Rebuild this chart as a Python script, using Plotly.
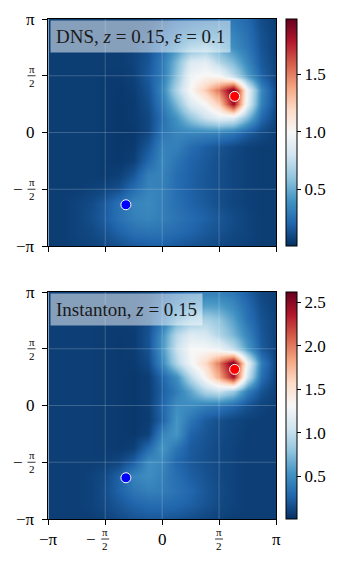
import numpy as np
import plotly.graph_objects as go

PI = np.pi

# grid nodes (17 x 17, spacing pi/8)
nodes = np.linspace(-PI, PI, 17)

# rows go from y = -pi (bottom) to y = pi (top)
dns_rows = [
    [0.06,0.06,0.07,0.08,0.10,0.13,0.16,0.18,0.18,0.16,0.14,0.12,0.10,0.08,0.07,0.06,0.06],
    [0.06,0.06,0.08,0.10,0.14,0.20,0.25,0.27,0.26,0.23,0.20,0.16,0.13,0.10,0.08,0.06,0.06],
    [0.06,0.06,0.08,0.12,0.18,0.26,0.32,0.34,0.31,0.27,0.23,0.19,0.15,0.11,0.08,0.06,0.06],
    [0.06,0.06,0.08,0.11,0.17,0.26,0.34,0.36,0.31,0.25,0.20,0.16,0.12,0.09,0.07,0.06,0.06],
    [0.06,0.06,0.06,0.07,0.09,0.13,0.24,0.34,0.32,0.24,0.19,0.15,0.12,0.09,0.07,0.06,0.06],
    [0.06,0.06,0.06,0.06,0.05,0.07,0.15,0.32,0.33,0.24,0.19,0.15,0.12,0.09,0.07,0.06,0.06],
    [0.06,0.06,0.06,0.06,0.05,0.04,0.07,0.22,0.35,0.27,0.20,0.16,0.12,0.09,0.07,0.06,0.06],
    [0.06,0.06,0.06,0.06,0.05,0.04,0.05,0.16,0.33,0.32,0.24,0.18,0.14,0.10,0.07,0.06,0.06],
    [0.06,0.06,0.06,0.06,0.05,0.04,0.04,0.10,0.28,0.34,0.34,0.33,0.32,0.27,0.17,0.10,0.06],
    [0.06,0.06,0.06,0.06,0.05,0.04,0.05,0.10,0.25,0.40,0.60,0.78,0.88,0.85,0.55,0.22,0.08],
    [0.06,0.06,0.06,0.06,0.05,0.04,0.05,0.12,0.30,0.55,0.85,1.00,1.25,1.85,0.90,0.32,0.10],
    [0.06,0.06,0.06,0.06,0.05,0.04,0.06,0.14,0.35,0.70,1.00,1.25,1.55,1.97,0.95,0.35,0.10],
    [0.06,0.06,0.06,0.06,0.05,0.05,0.07,0.17,0.30,0.60,0.95,1.02,1.00,0.75,0.45,0.20,0.08],
    [0.06,0.06,0.06,0.06,0.06,0.06,0.08,0.15,0.30,0.55,0.85,0.90,0.70,0.55,0.35,0.16,0.08],
    [0.06,0.06,0.06,0.06,0.06,0.06,0.08,0.14,0.25,0.40,0.55,0.60,0.50,0.38,0.28,0.14,0.07],
    [0.06,0.06,0.06,0.06,0.06,0.06,0.07,0.10,0.18,0.28,0.35,0.38,0.38,0.33,0.25,0.13,0.07],
    [0.06,0.06,0.06,0.06,0.06,0.06,0.06,0.08,0.12,0.18,0.22,0.25,0.28,0.28,0.22,0.11,0.06],
]

inst_rows = [
    [0.08,0.08,0.08,0.08,0.10,0.14,0.18,0.20,0.20,0.18,0.15,0.12,0.10,0.08,0.08,0.08,0.08],
    [0.08,0.08,0.08,0.10,0.14,0.20,0.26,0.30,0.30,0.28,0.24,0.18,0.13,0.10,0.08,0.08,0.08],
    [0.08,0.08,0.08,0.10,0.16,0.26,0.36,0.42,0.40,0.34,0.28,0.20,0.14,0.10,0.08,0.08,0.08],
    [0.08,0.08,0.08,0.10,0.14,0.26,0.44,0.50,0.42,0.32,0.24,0.18,0.13,0.10,0.08,0.08,0.08],
    [0.08,0.08,0.08,0.08,0.09,0.12,0.24,0.50,0.46,0.28,0.21,0.16,0.13,0.10,0.08,0.08,0.08],
    [0.08,0.08,0.08,0.08,0.07,0.06,0.09,0.30,0.55,0.36,0.22,0.17,0.13,0.10,0.08,0.08,0.08],
    [0.08,0.08,0.08,0.08,0.07,0.06,0.05,0.10,0.45,0.55,0.26,0.19,0.14,0.11,0.08,0.08,0.08],
    [0.08,0.08,0.08,0.08,0.07,0.06,0.05,0.07,0.26,0.55,0.36,0.22,0.16,0.12,0.09,0.08,0.08],
    [0.08,0.08,0.08,0.08,0.07,0.06,0.05,0.08,0.28,0.50,0.48,0.40,0.36,0.28,0.17,0.10,0.08],
    [0.08,0.08,0.08,0.08,0.07,0.06,0.05,0.08,0.24,0.40,0.62,0.92,1.02,0.85,0.42,0.18,0.09],
    [0.08,0.08,0.08,0.08,0.07,0.06,0.05,0.08,0.28,0.50,0.95,1.36,1.83,2.40,1.05,0.32,0.10],
    [0.08,0.08,0.08,0.08,0.07,0.06,0.06,0.14,0.48,0.92,1.28,1.57,2.04,2.60,1.25,0.40,0.10],
    [0.08,0.08,0.08,0.08,0.07,0.06,0.07,0.18,0.55,1.02,1.31,1.31,1.25,1.00,0.58,0.22,0.10],
    [0.08,0.08,0.08,0.08,0.07,0.06,0.07,0.18,0.52,0.95,1.15,1.10,0.92,0.72,0.45,0.20,0.10],
    [0.08,0.08,0.08,0.08,0.07,0.07,0.08,0.16,0.36,0.66,0.82,0.90,0.80,0.60,0.35,0.18,0.10],
    [0.08,0.08,0.08,0.08,0.08,0.08,0.10,0.15,0.28,0.45,0.55,0.60,0.58,0.48,0.30,0.15,0.09],
    [0.08,0.08,0.08,0.08,0.08,0.08,0.09,0.12,0.20,0.30,0.38,0.42,0.42,0.36,0.24,0.12,0.08],
]

dns_range = (0.01, 1.98)
inst_range = (0.01, 2.62)

# special points (red = maximum, blue = start)
red_x, red_y = [2.0], [1.0]
blue_x, blue_y = [-1.0], [-2.0]

tick_vals = [-PI, -PI / 2, 0, PI / 2, PI]

# matplotlib RdBu_r
RDBU_R = ["#053061", "#2166ac", "#4393c3", "#92c5de", "#d1e5f0", "#f7f7f7",
          "#fddbc7", "#f4a582", "#d6604d", "#b2182b", "#67001f"]
cscale = [[i / 10, c] for i, c in enumerate(RDBU_R)]

W, H = 344, 562
FONT = "Liberation Serif"
X_DOM = [48.3 / W, 276 / W]
Y_DOM_TOP = [1 - 246 / H, 1 - 19 / H]
Y_DOM_BOT = [1 - 519 / H, 1 - 292 / H]


def cbar(ydom):
    return dict(
        x=286 / W, xanchor="left", xpad=0, ypad=0,
        y=(ydom[0] + ydom[1]) / 2, yanchor="middle",
        len=ydom[1] - ydom[0], lenmode="fraction",
        thickness=11, thicknessmode="pixels",
        outlinecolor="black", outlinewidth=1,
        ticks="outside", ticklen=4, tickcolor="black",
        tickvals=[0.5, 1.0, 1.5, 2.0, 2.5], ticktext=["0.5", "1.0", "1.5", "2.0", "2.5"],
        tickfont=dict(family=FONT, size=17, color="black"),
    )


fig = go.Figure()
fig.add_trace(go.Heatmap(
    x=nodes, y=nodes, z=dns_rows, zsmooth="best", colorscale=cscale,
    zmin=dns_range[0], zmax=dns_range[1], colorbar=cbar(Y_DOM_TOP),
    xaxis="x", yaxis="y",
))
fig.add_trace(go.Heatmap(
    x=nodes, y=nodes, z=inst_rows, zsmooth="best", colorscale=cscale,
    zmin=inst_range[0], zmax=inst_range[1], colorbar=cbar(Y_DOM_BOT),
    xaxis="x2", yaxis="y2",
))

for xa, ya in [("x", "y"), ("x2", "y2")]:
    fig.add_trace(go.Scatter(x=red_x, y=red_y, mode="markers", xaxis=xa, yaxis=ya,
                             marker=dict(color="#ff0000", size=10, line=dict(color="white", width=1)),
                             showlegend=False))
    fig.add_trace(go.Scatter(x=blue_x, y=blue_y, mode="markers", xaxis=xa, yaxis=ya,
                             marker=dict(color="#0000ff", size=10, line=dict(color="white", width=1)),
                             showlegend=False))
    # faint grid lines drawn above the image
    for v in tick_vals[1:-1]:
        fig.add_shape(type="line", xref=xa, yref=ya, x0=v, x1=v, y0=-PI, y1=PI,
                      line=dict(color="rgba(255,255,255,0.2)", width=1), layer="above")
        fig.add_shape(type="line", xref=xa, yref=ya, x0=-PI, x1=PI, y0=v, y1=v,
                      line=dict(color="rgba(255,255,255,0.2)", width=1), layer="above")

axis_common = dict(
    range=[-PI, PI], tickvals=tick_vals, showticklabels=False,
    ticks="outside", ticklen=5, tickcolor="black", tickwidth=1,
    showline=True, mirror=True, linecolor="black", linewidth=1,
    showgrid=False, zeroline=False, layer="above traces",
)
fig.update_layout(
    width=W, height=H,
    margin=dict(l=0, r=0, t=0, b=0),
    paper_bgcolor="white", plot_bgcolor="white",
    showlegend=False,
    xaxis=dict(domain=X_DOM, anchor="y", **axis_common),
    yaxis=dict(domain=Y_DOM_TOP, anchor="x", **axis_common),
    xaxis2=dict(domain=X_DOM, anchor="y2", **axis_common),
    yaxis2=dict(domain=Y_DOM_BOT, anchor="x2", **axis_common),
)


# tick labels written as pi fractions
def frac_y(v, ya):
    xc = 31.5 / W
    fig.add_annotation(x=xc, xref="paper", y=v, yref=ya, text="π<br>2", showarrow=False,
                       font=dict(family=FONT, size=11, color="black"), xanchor="center",
                       yanchor="middle")
    fig.add_shape(type="line", xref="paper", yref=ya, x0=xc - 4 / W, x1=xc + 4 / W,
                  y0=v, y1=v, line=dict(color="black", width=0.8))
    if v < 0:
        fig.add_annotation(x=25 / W, xref="paper", y=v, yref=ya, text="−", showarrow=False,
                           font=dict(family=FONT, size=17, color="black"), xanchor="right",
                           yanchor="middle")


def frac_x(v, xa, ypix):
    yc = 1 - ypix / H
    fig.add_annotation(x=v, xref=xa, y=yc, yref="paper", text="π<br>2", showarrow=False,
                       font=dict(family=FONT, size=11, color="black"), xanchor="center",
                       yanchor="middle")
    fig.add_shape(type="line", xref=xa, yref="paper", x0=v - 0.11, x1=v + 0.11,
                  y0=yc, y1=yc, line=dict(color="black", width=0.8))
    if v < 0:
        fig.add_annotation(x=v - 0.2, xref=xa, y=yc, yref="paper", text="−", showarrow=False,
                           font=dict(family=FONT, size=17, color="black"), xanchor="right",
                           yanchor="middle")


plain = {-PI: "−π", 0: "0", PI: "π"}
for ya in ["y", "y2"]:
    for v in tick_vals:
        if v in plain:
            fig.add_annotation(x=37 / W, xref="paper", y=v, yref=ya, text=plain[v],
                               showarrow=False, xanchor="right", yanchor="middle",
                               font=dict(family=FONT, size=17, color="black"))
        else:
            frac_y(v, ya)

for v in tick_vals:
    if v in plain:
        fig.add_annotation(x=v, xref="x2", y=1 - 539 / H, yref="paper", text=plain[v],
                           showarrow=False, xanchor="center", yanchor="middle",
                           font=dict(family=FONT, size=17, color="black"))
    else:
        frac_x(v, "x2", 539)

# panel labels
for ytop, txt in [(20, "DNS, <i>z</i> = 0.15, <i>ε</i> = 0.1"),
                  (293, "Instanton, <i>z</i> = 0.15")]:
    fig.add_annotation(x=49.5 / W, xref="paper", y=1 - ytop / H, yref="paper", text=txt,
                       showarrow=False, xanchor="left", yanchor="top",
                       bgcolor="rgba(255,255,255,0.5)", borderpad=5,
                       font=dict(family=FONT, size=19, color="#1a1a1a"))

fig.write_html("out.html", config={"displayModeBar": False},
               post_script="document.body.style.margin='0';")
